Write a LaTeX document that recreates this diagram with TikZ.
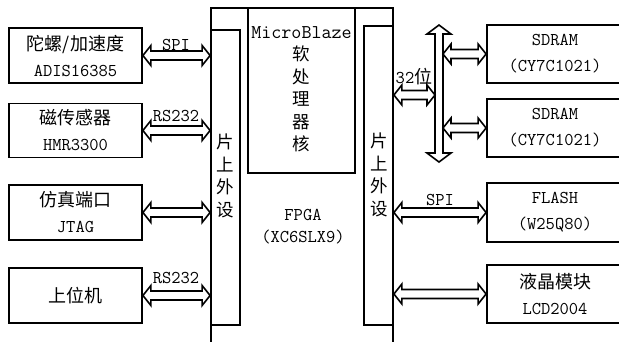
\documentclass[tikz,border=0pt]{standalone}
\usepackage{fontspec}
\newfontfamily\cjk{Noto Sans CJK SC}
\usetikzlibrary{calc}
\tikzset{
  blk/.style={draw, line width=1.8pt, inner sep=0pt, align=center,
    font=\fontsize{18}{26}\selectfont\ttfamily},
  conn/.style={draw, line width=1.6pt, line join=miter, fill=white},
  lbl/.style={font=\fontsize{18}{18}\selectfont\ttfamily, inner sep=0pt},
  vtxt/.style={align=center, inner sep=0pt, font=\fontsize{17.5}{22.5}\selectfont\cjk},
}
% horizontal hollow double arrow between two points
\newcommand\dblH[2]{\path[conn] let \p1=#1, \p2=#2 in
  (\x1,\y1) -- (\x1+8pt,\y1+10pt) -- (\x1+8pt,\y1+4.5pt) -- (\x2-8pt,\y2+4.5pt)
  -- (\x2-8pt,\y2+10pt) -- (\x2,\y2) -- (\x2-8pt,\y2-10pt) -- (\x2-8pt,\y2-4.5pt)
  -- (\x1+8pt,\y1-4.5pt) -- (\x1+8pt,\y1-10pt) -- cycle;}
% vertical hollow double arrow, #1 top, #2 bottom
\newcommand\dblV[2]{\path[conn] let \p1=#1, \p2=#2 in
  (\x1,\y1) -- (\x1+12pt,\y1-9pt) -- (\x1+4pt,\y1-9pt) -- (\x2+4pt,\y2+9pt)
  -- (\x2+12pt,\y2+9pt) -- (\x2,\y2) -- (\x2-12pt,\y2+9pt) -- (\x2-4pt,\y2+9pt)
  -- (\x1-4pt,\y1-9pt) -- (\x1-12pt,\y1-9pt) -- cycle;}
\begin{document}
\begin{tikzpicture}[x=1pt,y=-1pt]
\useasboundingbox (0,0) rectangle (619,341);
\fill[white] (0,0) rectangle (619,341);
% FPGA frame
\node[blk, minimum width=182pt, minimum height=340pt] (fpga) at (302,178) {};
\node[blk, minimum width=29pt, minimum height=295pt] (lp) at (225.5,177.5) {};
\node[blk, minimum width=29pt, minimum height=299pt] (rp) at (378.5,175.5) {};
\node[blk, minimum width=107pt, minimum height=165pt] (mb) at (301.5,90.5) {};
\node[vtxt] (mbt) at (301.5,89) {{\ttfamily\fontsize{19.5}{22.5}\selectfont MicroBlaze}\\软\\处\\理\\器\\核};
\node[vtxt] (lpt) at (225.5,176) {片\\上\\外\\设};
\node[vtxt] (rpt) at (379.5,175) {片\\上\\外\\设};
\node[lbl, align=center, font=\fontsize{18}{22}\selectfont\ttfamily] (fpgat) at (303,227) {FPGA\\(XC6SLX9)};
% left devices
\node[blk, minimum width=133pt, minimum height=55pt] (gyro) at (75.5,55.5) {{\cjk 陀螺/加速度}\\ADIS16385};
\node[blk, minimum width=133pt, minimum height=54pt] (mag) at (75.5,130.5) {{\cjk 磁传感器}\\HMR3300};
\node[blk, minimum width=133pt, minimum height=55pt] (jtag) at (75.5,212.5) {{\cjk 仿真端口}\\JTAG};
\node[blk, minimum width=133pt, minimum height=55pt] (pc) at (75.5,295.5) {\cjk 上位机};
% right devices
\node[blk, minimum width=136pt, minimum height=58pt] (sd1) at (555,54) {SDRAM\\(CY7C1021)};
\node[blk, minimum width=136pt, minimum height=58pt] (sd2) at (555,128) {SDRAM\\(CY7C1021)};
\node[blk, minimum width=136pt, minimum height=59pt] (fl) at (555,212.5) {FLASH\\(W25Q80)};
\node[blk, minimum width=136pt, minimum height=58pt] (lcd) at (555,294) {{\cjk 液晶模块}\\LCD2004};
% bus
\coordinate (bt) at (439,25);
\coordinate (bb) at (439,162);
\coordinate (bl) at (435,95);
\coordinate (br1) at (443,54);
\coordinate (br2) at (443,128);
% connectors
\dblH{(gyro.east)}{(lp.west |- gyro.east)}
\dblH{(mag.east)}{(lp.west |- mag.east)}
\dblH{(jtag.east)}{(lp.west |- jtag.east)}
\dblH{(pc.east)}{(lp.west |- pc.east)}
\dblV{(bt)}{(bb)}
\dblH{(rp.east |- bl)}{(bl)}
\dblH{(br1)}{(sd1.west)}
\dblH{(br2)}{(sd2.west)}
\dblH{(rp.east |- fl.west)}{(fl.west)}
\dblH{(rp.east |- lcd.west)}{(lcd.west)}
% labels
\node[lbl] (l1) at (176,45) {SPI};
\node[lbl] (l2) at (176,116) {RS232};
\node[lbl] (l3) at (176,278) {RS232};
\node[lbl] (l4) at (440,200) {SPI};
\node[lbl] (l5) at (414,77) {32{\cjk 位}};
\end{tikzpicture}
\end{document}
